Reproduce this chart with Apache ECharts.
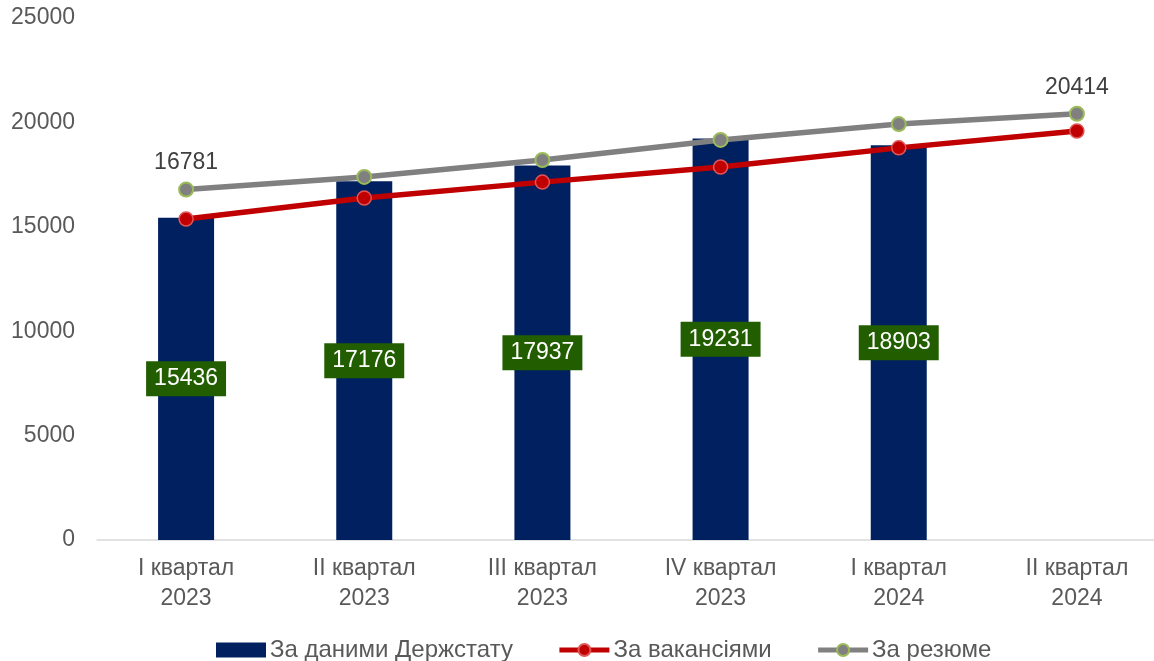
<!DOCTYPE html>
<html><head><meta charset="utf-8">
<script src="https://cdn.jsdelivr.net/npm/echarts@6/dist/echarts.min.js"></script>
<style>html,body{margin:0;padding:0;background:#fff;overflow:hidden}#c{width:1166px;height:661px}</style>
</head><body><div id="c"></div>
<script>
const categories = ['I квартал\n2023','II квартал\n2023','III квартал\n2023','IV квартал\n2023','I квартал\n2024','II квартал\n2024'];
const derzhstat = [15436, 17176, 17937, 19231, 18903, null];
const vacancies = [15370, 16380, 17140, 17860, 18780, 19590];
const resumes = [16781, 17390, 18200, 19160, 19920, 20414];
const yTicks = [0, 5000, 10000, 15000, 20000, 25000];
const labeledResumeIdx = [0, 5];

const font = 'Liberation Sans, Arial, sans-serif';
const chart = echarts.init(document.getElementById('c'));
chart.setOption({
  animation: false,
  textStyle: {fontFamily: font},
  grid: {left: 97, top: 18, right: 0, height: 522, containLabel: false},
  legend: {
    top: 633, left: 211, itemGap: 44, itemWidth: 50, itemHeight: 15,
    textStyle: {fontSize: 24, color: '#595959', fontFamily: font, padding: [0, 0, 0, -1]},
    data: [
      {name: 'За даними Держстату', icon: 'rect'},
      {name: 'За вакансіями', lineStyle: {width: 5}},
      {name: 'За резюме', lineStyle: {width: 5}}
    ]
  },
  xAxis: {
    type: 'category', data: categories,
    axisLine: {lineStyle: {color: '#d9d9d9', width: 1.5}},
    axisTick: {show: false},
    axisLabel: {fontSize: 23, color: '#595959', lineHeight: 30, margin: 14}
  },
  yAxis: {
    type: 'value', min: yTicks[0], max: yTicks[yTicks.length-1], interval: 5000,
    splitLine: {show: false}, axisLine: {show: false}, axisTick: {show: false},
    axisLabel: {fontSize: 23, color: '#595959', margin: 22, formatter: v => String(v)}
  },
  series: [
    {
      name: 'За даними Держстату', type: 'bar', data: derzhstat, barWidth: 56,
      itemStyle: {color: '#002060'},
      label: {show: true, position: 'inside', color: '#fff', fontSize: 23,
        backgroundColor: '#225E00', padding: [7, 8, 5, 8]}
    },
    {
      name: 'За вакансіями', type: 'line', data: vacancies, symbol: 'circle', symbolSize: 14,
      lineStyle: {color: '#C00000', width: 5.5},
      itemStyle: {color: '#C00000', borderColor: '#E05555', borderWidth: 1.5}
    },
    {
      name: 'За резюме', type: 'line', data: resumes, symbol: 'circle', symbolSize: 14,
      lineStyle: {color: '#808080', width: 5.5},
      itemStyle: {color: '#808080', borderColor: '#9BBB59', borderWidth: 2},
      label: {show: true, position: 'top', distance: 7, fontSize: 23, color: '#404040',
        formatter: p => labeledResumeIdx.includes(p.dataIndex) ? String(p.value) : ''}
    }
  ]
});
</script></body></html>
